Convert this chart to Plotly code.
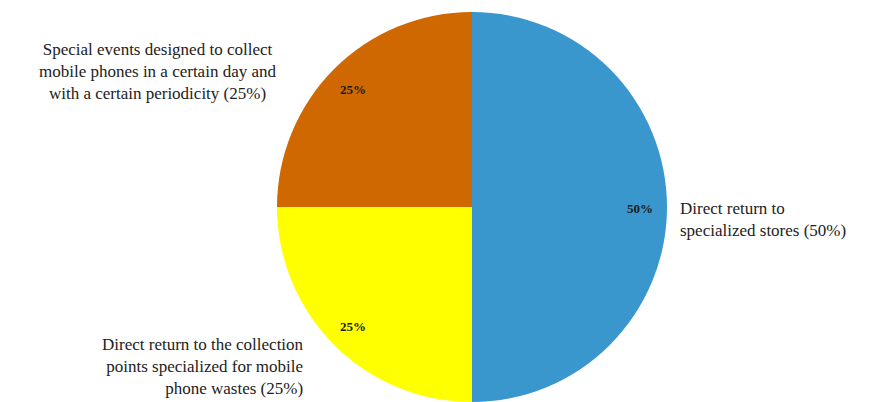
import math
import plotly.graph_objects as go

categories = [
    ["Direct return to", "specialized stores (50%)"],
    ["Direct return to the collection", "points specialized for mobile", "phone wastes (25%)"],
    ["Special events designed to collect", "mobile phones in a certain day and", "with a certain periodicity (25%)"],
]
values = [50, 25, 25]
pct_labels = ["50%", "25%", "25%"]
colors = ["#3A97CD", "#FFFF00", "#CF6800"]

W, H = 884, 402
R = 195
CX, CY = 472, 207  # pixel centre of the pie (from top-left)

dom_x = [(CX - R) / W, (CX + R) / W]
dom_y = [max(0.0, 1 - (CY + R) / H), 1 - (CY - R) / H]

fig = go.Figure(go.Pie(
    values=values,
    labels=[" ".join(c) for c in categories],
    marker=dict(colors=colors, line=dict(width=0)),
    sort=False,
    direction="clockwise",
    rotation=0,
    textinfo="none",
    hoverinfo="none",
    showlegend=False,
    domain=dict(x=dom_x, y=dom_y),
))

serif = "Liberation Serif, Times New Roman, serif"

# percentage labels near the rim, positioned from the values
total = sum(values)
cum = 0
for v, t in zip(values, pct_labels):
    mid = (cum + v / 2) / total * 2 * math.pi
    cum += v
    px = CX + 0.86 * R * math.sin(mid)
    py = CY + 1 - 0.86 * R * math.cos(mid)
    fig.add_annotation(x=px / W, y=1 - py / H, xref="paper", yref="paper",
                       text="<b>" + t + "</b>", showarrow=False,
                       font=dict(family=serif, size=13, color="#1a1a1a"),
                       xanchor="center", yanchor="middle")

# outside labels: (anchor x px, block centre y px, xanchor, align)
outside = [
    (678, 220, "left", "left"),
    (306, 366, "right", "right"),
    (157, 72, "center", "center"),
]
for lines, (x, y, xa, al) in zip(categories, outside):
    fig.add_annotation(x=x / W, y=1 - y / H, xref="paper", yref="paper",
                       text="<br>".join(lines), showarrow=False, align=al,
                       font=dict(family=serif, size=17, color="#222222"),
                       xanchor=xa, yanchor="middle")

fig.update_layout(
    width=W, height=H,
    margin=dict(l=0, r=0, t=0, b=0),
    paper_bgcolor="white",
    plot_bgcolor="white",
)
fig.write_html("out.html")
